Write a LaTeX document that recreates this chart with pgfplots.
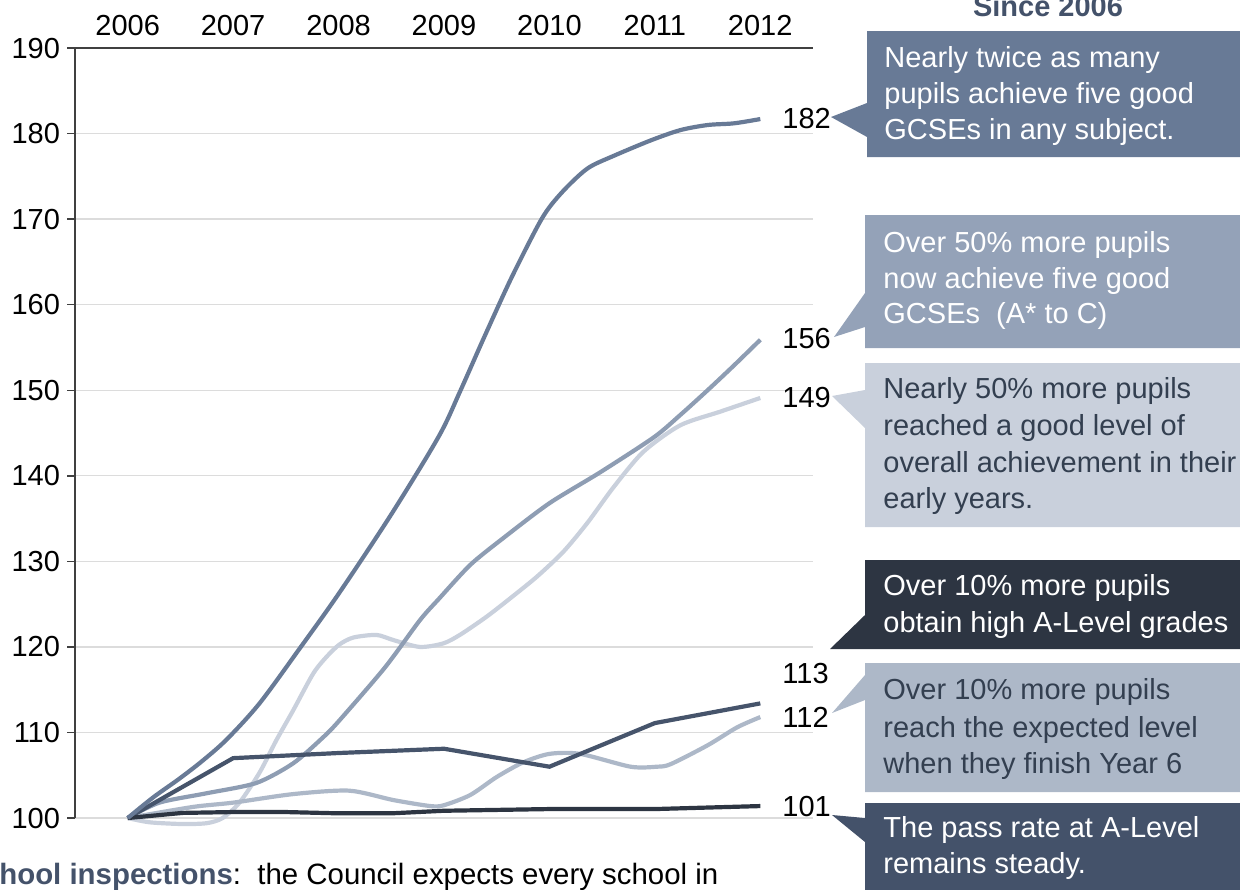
\documentclass[border=0pt]{standalone}
\usepackage{fontspec}
\setmainfont{Liberation Sans}
\usepackage{pgfplots}
\pgfplotsset{compat=1.18}

\definecolor{cA}{HTML}{687A96}
\definecolor{cB}{HTML}{8E9DB3}
\definecolor{cC}{HTML}{C9D0DC}
\definecolor{cD}{HTML}{46546B}
\definecolor{cE}{HTML}{ADB8C8}
\definecolor{cF}{HTML}{2D3542}
\definecolor{boxA}{HTML}{687A96}
\definecolor{boxB}{HTML}{94A2B8}
\definecolor{boxC}{HTML}{C9D0DC}
\definecolor{boxD}{HTML}{2D3542}
\definecolor{boxE}{HTML}{ADB8C8}
\definecolor{boxF}{HTML}{44526A}
\definecolor{darktxt}{HTML}{333F50}
\definecolor{axisgray}{HTML}{404040}
\definecolor{gridgray}{HTML}{DCDCDC}

\newcommand\lbl{\fontsize{14.5bp}{18bp}\selectfont}

\begin{document}
\begin{tikzpicture}
\begin{axis}[
    at={(37.5bp,-409bp)}, anchor=south west,
    scale only axis, width=369bp, height=385bp,
    xmin=2005.5, xmax=2012.5, ymin=100, ymax=190,
    axis x line*=top, axis y line*=left,
    axis line style={draw=axisgray, line width=0.75bp},
    xtick={2006,2007,...,2012}, ytick={100,110,...,190},
    tick align=outside, major tick length=4bp,
    tick style={draw=axisgray, line width=0.75bp},
    xtick style={draw=none},
    ymajorgrids, grid style={draw=gridgray, line width=0.65bp},
    ticklabel style={font=\lbl},
    /pgf/number format/assume math mode=true,
    x tick label style={/pgf/number format/1000 sep={}, yshift=-1.5bp},
    clip=false,
]

% early years foundation stage (149)
\addplot[cC, line width=2.1bp, smooth, tension=0.45] coordinates {
    (2006.00,100) (2006.21,99.5) (2006.52,99.3) (2006.75,99.4) (2006.90,100.0)
    (2007.06,101.8) (2007.25,105.3) (2007.41,109.1) (2007.57,112.6) (2007.76,116.9)
    (2007.89,118.9) (2008.01,120.3) (2008.14,121.1) (2008.36,121.4) (2008.52,120.8)
    (2008.77,120.0) (2008.99,120.4) (2009.15,121.4) (2009.40,123.5) (2009.63,125.7)
    (2009.88,128.2) (2010.13,131.1) (2010.36,134.5) (2010.61,138.7) (2010.89,142.8)
    (2011.24,145.9) (2011.62,147.5) (2012.00,149.1)
};

% five good GCSEs A*-C (156)
\addplot[cB, line width=2.1bp, smooth, tension=0.45] coordinates {
    (2006.00,100) (2006.30,101.8) (2006.75,102.9) (2007.22,104.1) (2007.57,106.4)
    (2007.85,109.4) (2008.00,111.3) (2008.44,117.6) (2008.77,123.1) (2008.95,125.6)
    (2009.25,129.6) (2009.56,132.7) (2010.00,136.8) (2010.48,140.4) (2010.99,144.5)
    (2011.24,147.1) (2011.50,150.0) (2011.75,152.9) (2012.00,155.9)
};

% key stage 2 expected level (112)
\addplot[cE, line width=2.1bp, smooth, tension=0.45] coordinates {
    (2006.00,100) (2006.62,101.3) (2007.00,101.8) (2007.57,102.8) (2008.10,103.2)
    (2008.52,102.1) (2008.87,101.4) (2009.00,101.5) (2009.25,102.7) (2009.50,104.8)
    (2009.75,106.5) (2010.00,107.5) (2010.29,107.5) (2010.77,106.0) (2011.02,106.0)
    (2011.15,106.3) (2011.50,108.5) (2011.78,110.6) (2012.00,111.8)
};

% high A-level grades (113)
\addplot[cD, line width=2.1bp] coordinates {
    (2006,100) (2007,107.0) (2008,107.6) (2009,108.1) (2010,106.0) (2011,111.1) (2012,113.4)
};

% A-level pass rate (101)
\addplot[cF, line width=2.1bp] coordinates {
    (2006,100) (2006.52,100.6) (2007,100.7) (2007.5,100.7) (2008,100.55)
    (2008.5,100.55) (2009,100.85) (2010,101.05) (2011,101.05) (2012,101.4)
};

% five good GCSEs any subject (182)
\addplot[cA, line width=2.1bp, smooth, tension=0.5] coordinates {
    (2006.00,100) (2006.24,102.4) (2006.49,104.6) (2006.71,106.7) (2006.94,109.2)
    (2007.25,113.4) (2007.63,119.8) (2008.00,126.2) (2008.50,135.5) (2008.95,144.6)
    (2009.15,149.8) (2009.37,155.9) (2009.63,162.9) (2009.88,169.0) (2010.00,171.4)
    (2010.17,173.8) (2010.37,176.0) (2010.61,177.4) (2010.96,179.2) (2011.24,180.4)
    (2011.50,181.0) (2011.75,181.2) (2012.00,181.7)
};
\end{axis}

\begin{scope}[x=0.5bp, y=-0.5bp, every node/.style={inner sep=0pt, font=\lbl}]
% end-of-line values
\node[anchor=west] at (782,119) {182};
\node[anchor=west] at (782,339) {156};
\node[anchor=west] at (782,398) {149};
\node[anchor=west] at (782,673) {113};
\node[anchor=west] at (782,717) {112};
\node[anchor=west] at (782,806) {101};

% callouts
\fill[boxA] (867,31) -- (1260,31) -- (1260,157) -- (867,157) -- (867,137) -- (831,117) -- (867,103) -- cycle;
\node[anchor=base west, text=white] at (884,67) {Nearly twice as many};
\node[anchor=base west, text=white] at (884,103) {pupils achieve five good};
\node[anchor=base west, text=white] at (884,139) {GCSEs in any subject.};

\fill[boxB] (865,215) -- (1260,215) -- (1260,348) -- (865,348) -- (865,327) -- (834,337) -- (865,293) -- cycle;
\node[anchor=base west, text=white] at (883,252) {Over 50\% more pupils};
\node[anchor=base west, text=white] at (883,288) {now achieve five good};
\node[anchor=base west, text=white] at (883,323) {GCSEs\ \ (A* to C)};

\fill[boxC] (865,363) -- (1260,363) -- (1260,527) -- (865,527) -- (865,428) -- (832,396) -- (865,390) -- cycle;
\node[anchor=base west, text=darktxt] at (883,398) {Nearly 50\% more pupils};
\node[anchor=base west, text=darktxt] at (883,435) {reached a good level of};
\node[anchor=base west, text=darktxt] at (883,472) {overall achievement in their};
\node[anchor=base west, text=darktxt] at (883,508) {early years.};

\fill[boxD] (865,560) -- (1260,560) -- (1260,649) -- (830,649) -- (865,615) -- cycle;
\node[anchor=base west, text=white] at (883,595) {Over 10\% more pupils};
\node[anchor=base west, text=white] at (883,632) {obtain high A-Level grades};

\fill[boxE] (865,663) -- (1260,663) -- (1260,792) -- (865,792) -- (865,700) -- (832,713) -- (865,675) -- cycle;
\node[anchor=base west, text=darktxt] at (883,699) {Over 10\% more pupils};
\node[anchor=base west, text=darktxt] at (883,737) {reach the expected level};
\node[anchor=base west, text=darktxt] at (883,773) {when they finish Year 6};

\fill[boxF] (865,803) -- (1260,803) -- (1260,900) -- (865,900) -- (865,842) -- (832,815) -- (865,818) -- cycle;
\node[anchor=base west, text=white] at (883,837) {The pass rate at A-Level};
\node[anchor=base west, text=white] at (883,873) {remains steady.};

% text cut by the edges of the page, as in the source
\node[anchor=base, font=\lbl\bfseries, text=boxF] at (1048,16) {Since 2006};
\node[anchor=base west, font=\fontsize{14.7bp}{18bp}\selectfont] at (-37,884) {\textbf{\color{boxF}School inspections}:\ \ the Council expects every school in};

\pgfresetboundingbox
\path[use as bounding box] (0,0) rectangle (1240,889);
\end{scope}
\end{tikzpicture}
\end{document}
